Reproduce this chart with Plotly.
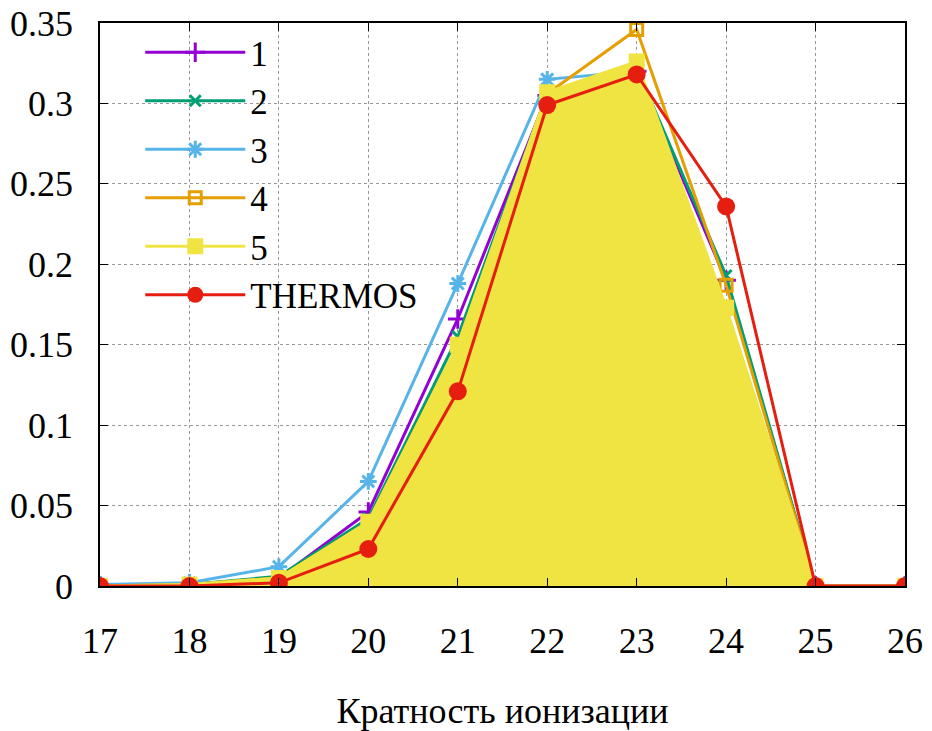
import plotly.graph_objects as go

x = [17, 18, 19, 20, 21, 22, 23, 24, 25, 26]
s1 = [0.0, 0.001, 0.005, 0.046, 0.166, 0.305, 0.320, 0.190, 0.0, 0.0]
s2 = [0.0, 0.001, 0.006, 0.042, 0.155, 0.306, 0.322, 0.193, 0.0, 0.0]
s3 = [0.001, 0.002, 0.012, 0.065, 0.188, 0.315, 0.320, 0.172, 0.0, 0.0]
s4 = [0.0, 0.001, 0.005, 0.040, 0.150, 0.306, 0.346, 0.187, 0.0, 0.0]
s5 = [0.0, 0.001, 0.005, 0.040, 0.150, 0.307, 0.326, 0.173, 0.0, 0.0]
thermos = [0.0, 0.0, 0.002, 0.023, 0.121, 0.299, 0.318, 0.236, 0.0, 0.0]

names = ["1", "2", "3", "4", "5", "THERMOS"]
colors = ["#9400d3", "#009e73", "#56b4e9", "#e69f00", "#f0e442", "#e51e10"]
symbols = ["cross-thin-open", "x-thin-open", "asterisk-open", "square-open", "square", "circle"]
sizes = [14, 11, 14, 12, 13, 18]
xtick_vals = list(range(17, 27))
ytick_vals = [0, 0.05, 0.1, 0.15, 0.2, 0.25, 0.3, 0.35]
ytick_text = ["0", "0.05", "0.1", "0.15", "0.2", "0.25", "0.3", "0.35"]

series = [s1, s2, s3, s4, s5, thermos]
fig = go.Figure()
for i, ys in enumerate(series):
    if i == 4:
        # filled area under series 5 (no legend entry)
        fig.add_trace(go.Scatter(
            x=x, y=ys, mode="lines", fill="tozeroy", fillcolor="#f0e442",
            line=dict(color="#f0e442", width=1), showlegend=False, hoverinfo="skip"))
    fig.add_trace(go.Scatter(
        x=x, y=ys, name=names[i], mode="lines+markers",
        line=dict(color=colors[i], width=3),
        marker=dict(symbol=symbols[i], size=sizes[i], color=colors[i],
                    line=dict(color=colors[i], width=3 if i != 5 else 0))))

font = "Liberation Serif"
axis_common = dict(
    showgrid=True, gridcolor="#999999", griddash="dot", gridwidth=1,
    ticks="inside", ticklen=8, tickwidth=1, tickcolor="black",
    showline=True, linecolor="black", linewidth=1.5, mirror="ticks",
    zeroline=False, automargin=False, ticklabeloverflow="allow",
    tickfont=dict(family=font, size=36, color="black"),
)
fig.update_xaxes(range=[17, 26], tickvals=xtick_vals, ticklabelstandoff=22,
                 title=dict(text="Кратность ионизации", font=dict(family=font, size=36, color="black"), standoff=55),
                 **axis_common)
fig.update_yaxes(range=[0, 0.35], tickvals=ytick_vals, ticktext=ytick_text,
                 ticklabelstandoff=18, **axis_common)

fig.update_layout(
    width=932, height=731,
    margin=dict(l=100, r=27, t=23, b=145),
    plot_bgcolor="white", paper_bgcolor="white",
    font=dict(family=font, size=36, color="black"),
    legend=dict(x=0.05, y=1.0, xanchor="left", yanchor="top",
                bgcolor="rgba(0,0,0,0)", itemwidth=100,
                font=dict(family=font, size=35, color="black")),
)
fig.write_html("out.html", config={"displayModeBar": False},
               post_script="document.body.style.margin='0';document.body.style.overflow='hidden';")
